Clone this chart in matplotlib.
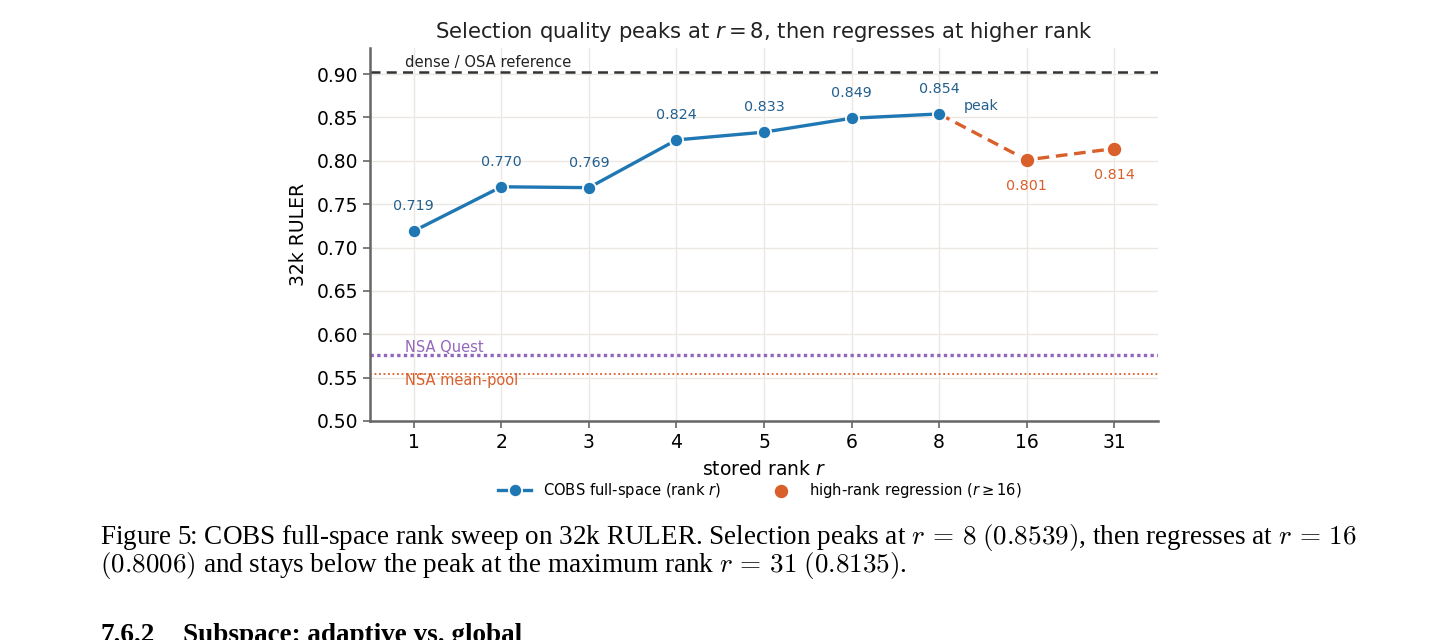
import matplotlib
matplotlib.use('Agg')
import matplotlib.pyplot as plt
import numpy as np

# data
ranks = ['1', '2', '3', '4', '5', '6', '8', '16', '31']
ruler = [0.719, 0.770, 0.769, 0.824, 0.833, 0.849, 0.854, 0.801, 0.814]
n_low = 7  # ranks 1..8 drawn blue, 16 and 31 orange
dense_ref = 0.902
nsa_quest = 0.576
nsa_meanpool = 0.554

BLUE = '#1f77b4'
BLUE_TXT = '#23608f'
ORANGE = '#d95f2b'
PURPLE = '#9467bd'
GRID = '#ebe7e3'
SPINE = '#666666'

plt.rcParams['font.family'] = 'DejaVu Sans'

fig = plt.figure(figsize=(14.54, 6.40), dpi=100)
ax = fig.add_axes([370 / 1454, 1 - 421 / 640, 788 / 1454, 373 / 640])

x = np.arange(len(ranks))
y = np.array(ruler)

ax.axhline(dense_ref, color='#333333', ls=(0, (4, 2.5)), lw=1.8, zorder=2)
ax.axhline(nsa_quest, color=PURPLE, ls=(0, (1, 1)), lw=2.4, zorder=2)
ax.axhline(nsa_meanpool, color=ORANGE, ls=(0, (1, 1.5)), lw=1.3, zorder=2)

ax.text(-0.1, dense_ref + 0.003, 'dense / OSA reference', fontsize=10.6,
        color='#222222', ha='left', va='bottom')
ax.text(-0.1, nsa_quest + 0.0005, 'NSA Quest', fontsize=10.5,
        color=PURPLE, ha='left', va='bottom')
ax.text(-0.1, nsa_meanpool + 0.001, 'NSA mean-pool', fontsize=10.5,
        color=ORANGE, ha='left', va='top')

ax.plot(x[:n_low], y[:n_low], color=BLUE, lw=2.4, marker='o', ms=9.5,
        mec='white', mew=1.3, zorder=4, label='COBS full-space (rank $r$)')
ax.plot(x[n_low - 1:], y[n_low - 1:], color=ORANGE, lw=2.4, ls=(0, (3.5, 2)),
        zorder=3)
ax.scatter(x[n_low:], y[n_low:], s=120, color=ORANGE, edgecolor='white',
           linewidth=1.3, zorder=5, label='high-rank regression ($r \\geq 16$)')

for xi, yi in zip(x[:n_low], y[:n_low]):
    ax.annotate(f'{yi:.3f}', (xi, yi), xytext=(0, 13), textcoords='offset points',
                ha='center', va='bottom', fontsize=10.3, color=BLUE_TXT)
for xi, yi in zip(x[n_low:], y[n_low:]):
    ax.annotate(f'{yi:.3f}', (xi, yi), xytext=(0, -14), textcoords='offset points',
                ha='center', va='top', fontsize=10.3, color=ORANGE)
ax.annotate('peak', (x[n_low - 1], y[n_low - 1]), xytext=(18, 6),
            textcoords='offset points', ha='left', va='center', fontsize=10.3,
            color=BLUE_TXT)

ax.set_xlim(-0.5, len(ranks) - 0.5)
ax.set_ylim(0.5, 0.93)
ax.set_xticks(x)
ax.set_xticklabels(ranks)
ax.set_yticks(np.arange(0.50, 0.901, 0.05))
ax.set_yticklabels([f'{v:.2f}' for v in np.arange(0.50, 0.901, 0.05)])
ax.tick_params(labelsize=13.5, color=SPINE, length=5, width=1.2)
ax.grid(True, color=GRID, lw=1.0, zorder=0)
ax.set_axisbelow(True)
for s in ['top', 'right']:
    ax.spines[s].set_visible(False)
for s in ['left', 'bottom']:
    ax.spines[s].set_color(SPINE)
    ax.spines[s].set_linewidth(1.8)

ax.set_xlabel('stored rank $r$', fontsize=13.5, labelpad=6)
ax.set_ylabel('32k RULER', fontsize=13.5, labelpad=6)
ax.set_title('Selection quality peaks at $r = 8$, then regresses at higher rank',
             fontsize=15.2, color='#222222', pad=7)

ax.legend(loc='upper center', bbox_to_anchor=(0.495, -0.125), ncol=2,
          frameon=False, fontsize=10.6, columnspacing=3, handlelength=2.2)

# caption and following section heading of the page
cap = dict(family='Liberation Serif', fontsize=19.5, color='black',
           ha='left', va='baseline', math_fontfamily='cm')
fig.text(100 / 1454, 1 - 544 / 640,
         'Figure 5: COBS full-space rank sweep on 32k RULER. Selection peaks at '
         '$r\\,=\\,8$ $(0.8539)$, then regresses at $r\\,=\\,16$', **cap)
fig.text(100 / 1454, 1 - 572 / 640,
         '$(0.8006)$ and stays below the peak at the maximum rank '
         '$r\\,=\\,31$ $(0.8135)$.', **cap)
head = dict(family='Liberation Serif', fontsize=19.5, weight='bold',
            color='black', ha='left', va='baseline')
fig.text(100 / 1454, 1 - 642 / 640, '7.6.2', **head)
fig.text(183 / 1454, 1 - 642 / 640, 'Subspace: adaptive vs. global', **head)

fig.savefig('out.png', dpi=100)
